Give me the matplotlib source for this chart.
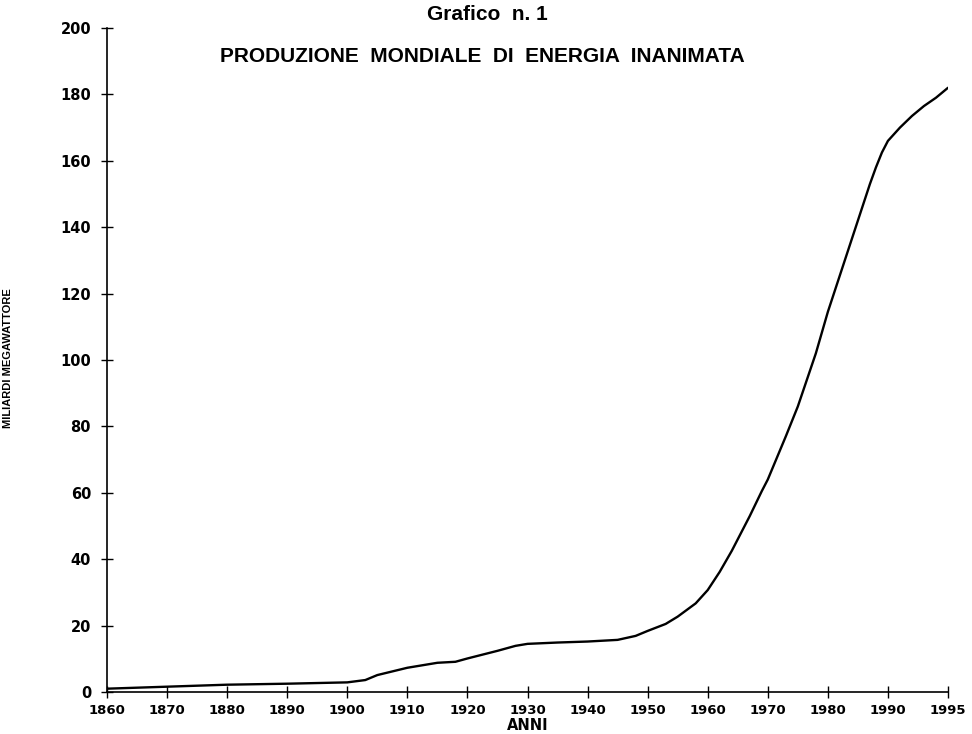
import numpy as np
import matplotlib
matplotlib.use("Agg")
import matplotlib.pyplot as plt

# Category axis (equally spaced labels)
tick_years = [1860, 1870, 1880, 1890, 1900, 1910, 1920, 1930, 1940, 1950,
              1960, 1970, 1980, 1990, 1995]
tick_labels = [str(y) for y in tick_years]

# Series (billions of MWh)
years = [1860, 1870, 1880, 1890, 1900, 1903, 1905, 1910, 1915, 1918, 1920,
         1925, 1928, 1930, 1935, 1940, 1945, 1948, 1950, 1953, 1955, 1958,
         1960, 1962, 1964, 1967, 1969, 1970, 1973, 1975, 1978, 1980, 1983,
         1985, 1986, 1987, 1988, 1989, 1990, 1991, 1992, 1993, 1994, 1995]
values = [1.0, 1.6, 2.2, 2.5, 2.9, 3.6, 5.1, 7.3, 8.8, 9.1, 10.1,
          12.4, 13.9, 14.5, 14.9, 15.2, 15.7, 16.9, 18.4, 20.5, 22.7, 26.7,
          30.7, 36.2, 42.5, 53.0, 60.5, 64.0, 77.0, 86.0, 102.0, 114.5, 131.0,
          142.0, 147.5, 153.0, 158.0, 162.5, 166.0, 170.0, 173.5, 176.5,
          179.0, 182.0]

yticks = [0, 20, 40, 60, 80, 100, 120, 140, 160, 180, 200]

pos_ticks = np.arange(len(tick_years))
xpos = np.interp(years, tick_years, pos_ticks)

fig = plt.figure(figsize=(9.72, 7.34), dpi=100)
ax = fig.add_axes([107/972, 1-692/734, (948-107)/972, (692-28)/734])

ax.plot(xpos, values, color="black", lw=1.7, solid_joinstyle="round",
        solid_capstyle="round")

ax.set_xlim(0, len(tick_years)-1)
ax.set_ylim(0, 200)
ax.set_xticks(pos_ticks)
ax.set_xticklabels(tick_labels)
ax.set_yticks(yticks)
ax.set_yticklabels([str(v) for v in yticks])

for s in ["top", "right"]:
    ax.spines[s].set_visible(False)
for s in ["left", "bottom"]:
    ax.spines[s].set_linewidth(1.2)
    ax.spines[s].set_color("black")

ax.tick_params(axis="both", direction="inout", length=9, width=1.0,
               colors="black")
ax.tick_params(axis="y", pad=7)
ax.tick_params(axis="x", pad=4)
for lab in ax.get_xticklabels():
    lab.set_fontfamily("DejaVu Sans")
    lab.set_fontweight("bold")
    lab.set_fontsize(9.5)
for lab in ax.get_yticklabels():
    lab.set_fontfamily("DejaVu Sans")
    lab.set_fontweight("bold")
    lab.set_fontsize(10.5)

fig.text(487/972, 1-15/734, "Grafico  n. 1", ha="center", va="center",
         fontsize=15, fontweight="bold", family="Liberation Sans")
fig.text(482/972, 1-57/734, "PRODUZIONE  MONDIALE  DI  ENERGIA  INANIMATA",
         ha="center", va="center", fontsize=15, fontweight="bold",
         family="Liberation Sans")
fig.text(8/972, 1-358/734, "MILIARDI MEGAWATTORE", rotation=90,
         ha="center", va="center", fontsize=8, fontweight="bold",
         family=["Liberation Sans Narrow", "Liberation Sans"])
fig.text(528/972, 1-725/734, "ANNI", ha="center", va="center",
         fontsize=10.5, fontweight="bold", family="DejaVu Sans")

fig.savefig("out.png", dpi=100, facecolor="white")
